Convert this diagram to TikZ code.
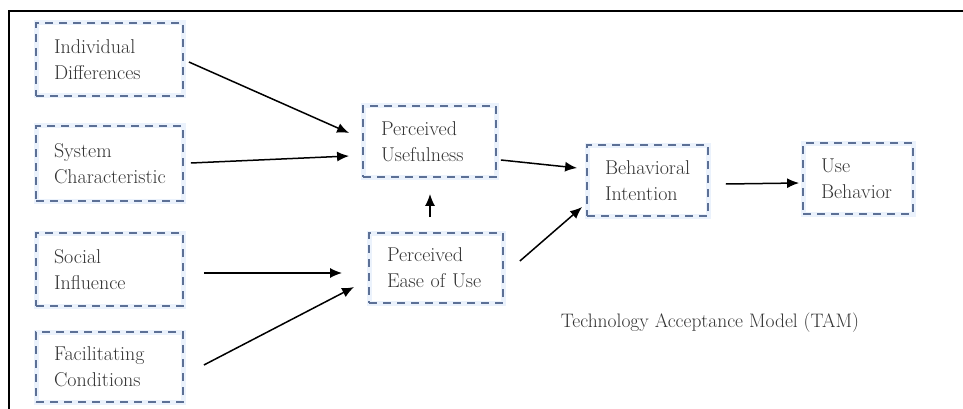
\documentclass[tikz,border=0pt]{standalone}
\usetikzlibrary{calc,arrows.meta}
\definecolor{boxblue}{RGB}{92,112,150}
\definecolor{halo}{RGB}{235,242,252}
\definecolor{inkgray}{RGB}{52,52,52}
\tikzset{
  factor/.style={draw=boxblue, line width=1.8pt, dash pattern=on 8pt off 6pt,
    preaction={draw=halo, line width=5pt, solid},
    rectangle, anchor=center, inner xsep=18pt, inner ysep=0pt,
    align=left, text=inkgray,
    font=\fontsize{20}{26}\selectfont},
  link/.style={draw=black, line width=1.5pt, -{Latex[length=12pt,width=10pt]}},
  frameline/.style={draw=black, line width=2pt}
}
\begin{document}
\begin{tikzpicture}[x=1pt,y=-1pt]
\useasboundingbox (0,0) rectangle (963,409);
\fill[white] (0,0) rectangle (963,409);
% open frame: top and left edges only
\draw[frameline] (963,11) -- (9,11) -- (9,409);

% external factors
\node[factor, text width=111pt, minimum height=73pt] (ID)  at (109.5,59.5) {Individual\\Differences};
\node[factor, text width=111pt, minimum height=75pt] (SC)  at (109.5,163.5) {System\\Characteristic};
\node[factor, text width=111pt, minimum height=73pt] (SI)  at (109.5,269.5) {Social\\Influence};
\node[factor, text width=111pt, minimum height=70pt] (FC)  at (109.5,367) {Facilitating\\Conditions};

% core constructs
\node[factor, text width=97pt, minimum height=71pt] (PU)  at (429.5,141.5) {Perceived\\Usefulness};
\node[factor, text width=98pt, minimum height=70pt] (PEU) at (436,268) {Perceived\\Ease of Use};
\node[factor, text width=85pt, minimum height=71pt] (BI)  at (647.5,180.5) {Behavioral\\Intention};
\node[factor, text width=74pt, minimum height=71pt] (UB)  at (858,178.5) {Use\\Behavior};

\node[text=inkgray, font=\fontsize{19.5}{22}\selectfont] (cap) at (710,323) {Technology Acceptance Model (TAM)};

% relations
\draw[link] ($(ID.east)+(5,2.5)$)   -- ($(PU.west)+(-13,-8.5)$);
\draw[link] ($(SC.east)+(7,-0.5)$)  -- ($(PU.west)+(-13,14.5)$);
\draw[link] ($(SI.east)+(20,3.5)$)  -- ($(PEU.west)+(-26,5)$);
\draw[link] ($(FC.east)+(20,-2)$)   -- ($(PEU.west)+(-14,19)$);
\draw[link] ($(PEU.north)+(-6,-15)$) -- ($(PU.south)+(0.5,16)$);
\draw[link] ($(PU.east)+(4,18.5)$)  -- ($(BI.west)+(-9,-12.5)$);
\draw[link] ($(PEU.east)+(16,-7)$)  -- ($(BI.west)+(-4,26.5)$);
\draw[link] ($(BI.east)+(17,3.5)$)  -- ($(UB.west)+(-3,4.5)$);
\end{tikzpicture}
\end{document}
